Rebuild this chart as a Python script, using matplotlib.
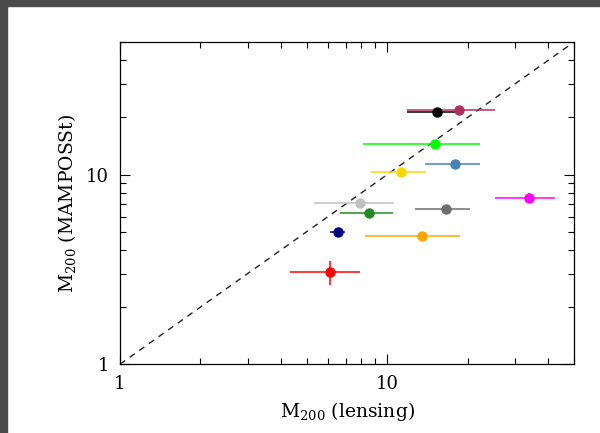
import matplotlib
matplotlib.use('Agg')
import matplotlib.pyplot as plt
from matplotlib.patches import Rectangle
from matplotlib.ticker import FixedLocator, FixedFormatter, NullFormatter, LogLocator

plt.rcParams['font.family'] = 'DejaVu Serif'
plt.rcParams['mathtext.fontset'] = 'dejavuserif'

# Data: lensing mass vs MAMPOSSt mass (units of 10^14 Msun)
colors = ['#b03060', 'black', '#00ff00', '#4682b4', '#ffd700', '#c0c0c0',
          '#228b22', '#6e6e6e', '#ff00ff', '#000080', '#ffa500', 'red']
m_lens = [18.6, 15.3, 15.1, 18.0, 11.3, 7.9, 8.57, 16.6, 34.0, 6.53, 13.5, 6.09]
m_lens_lo = [11.9, 11.9, 8.1, 13.9, 8.7, 5.3, 6.66, 12.7, 25.4, 6.12, 8.26, 4.33]
m_lens_hi = [25.3, 19.4, 22.2, 22.2, 14.0, 10.6, 10.5, 20.4, 42.6, 6.97, 18.7, 7.88]
m_mam = [21.9, 21.4, 14.5, 11.3, 10.3, 7.1, 6.27, 6.6, 7.56, 4.99, 4.72, 3.07]
m_mam_lo = [21.9, 21.4, 14.5, 11.3, 10.3, 7.1, 6.27, 6.6, 7.1, 4.99, 4.72, 2.61]
m_mam_hi = [21.9, 21.4, 14.5, 11.3, 10.3, 7.1, 6.27, 6.6, 8.0, 4.99, 4.72, 3.49]

fig = plt.figure(figsize=(6, 4.33), dpi=100)
ax = fig.add_axes([0.2, 0.159, 0.7567, 0.744])

ax.plot([1, 50], [1, 50], color='#222222', linestyle='--', dashes=(4.5, 4), lw=1.0)

for i in range(len(colors)):
    xerr = [[m_lens[i] - m_lens_lo[i]], [m_lens_hi[i] - m_lens[i]]]
    yerr = [[m_mam[i] - m_mam_lo[i]], [m_mam_hi[i] - m_mam[i]]]
    ax.errorbar(m_lens[i], m_mam[i], xerr=xerr, yerr=yerr, fmt='o',
                color=colors[i], ms=6.5, elinewidth=1.1, capsize=0)

ax.set_xscale('log')
ax.set_yscale('log')
ax.set_xlim(1, 50)
ax.set_ylim(1, 50)

for axis in (ax.xaxis, ax.yaxis):
    axis.set_major_locator(FixedLocator([1, 10]))
    axis.set_major_formatter(FixedFormatter(['1', '10']))
    axis.set_minor_locator(LogLocator(base=10, subs=range(2, 10)))
    axis.set_minor_formatter(NullFormatter())

ax.tick_params(which='both', direction='in', top=True, right=True, labelsize=13, width=0.8)
ax.tick_params(which='major', length=7, pad=8)
ax.tick_params(which='minor', length=4)
for s in ax.spines.values():
    s.set_linewidth(0.9)

ax.set_xlabel('M$_{200}$ (lensing)', fontsize=13.5, labelpad=5)
ax.set_ylabel('M$_{200}$ (MAMPOSSt)', fontsize=13.5, labelpad=6)

# dark frame strip along the top and left edges
fig.add_artist(Rectangle((0, 1 - 6 / 433), 1, 6 / 433, transform=fig.transFigure,
                         color='#4b4b4b', zorder=10))
fig.add_artist(Rectangle((0, 0), 7 / 600, 1, transform=fig.transFigure,
                         color='#4b4b4b', zorder=10))

fig.savefig('out.png', dpi=100)
